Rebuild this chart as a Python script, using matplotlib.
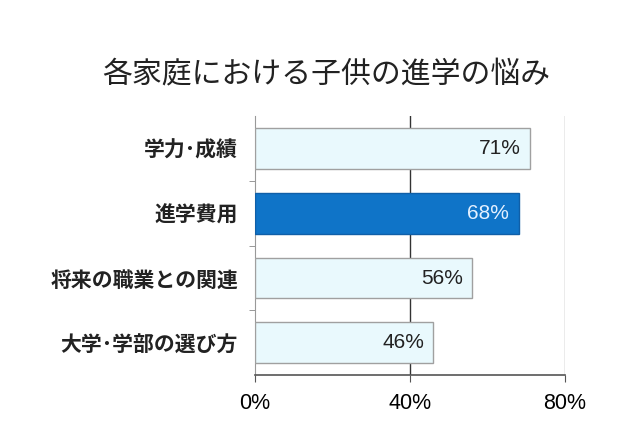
import matplotlib
matplotlib.use("Agg")
import matplotlib.pyplot as plt
from matplotlib.ticker import FixedLocator

plt.rcParams['font.family'] = ['Noto Sans CJK JP', 'DejaVu Sans']

categories = ["学力･成績", "進学費用", "将来の職業との関連", "大学･学部の選び方"]
values = [71, 68, 56, 46]
highlight = [False, True, False, False]
xticks = [0, 40, 80]
title = "各家庭における子供の進学の悩み"

fig = plt.figure(figsize=(6.4, 4.26), dpi=100)
ax = fig.add_axes([0.398, 0.119, 0.485, 0.609])

ypos = list(range(len(categories)))
colors = ['#0F74C8' if h else '#E9F9FD' for h in highlight]
edges = ['#0F5FA8' if h else '#A0A0A0' for h in highlight]
ax.barh(ypos, values, height=0.63, color=colors, edgecolor=edges, linewidth=1.0, zorder=3)

for y, v, h in zip(ypos, values, highlight):
    ax.text(v - 2.4, y, f"{v}%", ha='right', va='center', fontsize=15,
            color='#E3F0FF' if h else '#222222', zorder=4, family=['Liberation Sans', 'DejaVu Sans'])

ax.set_xlim(0, 80)
ax.set_ylim(len(categories) - 0.5, -0.5)
ax.set_xticks(xticks)
ax.set_xticklabels([f"{t}%" for t in xticks], fontsize=15.5, family=['Liberation Sans', 'DejaVu Sans'])
ax.set_yticks(ypos)
ax.set_yticklabels(categories, fontsize=15, fontweight='bold', color='#222222')
ax.tick_params(axis='y', length=0, pad=12)
ax.yaxis.set_minor_locator(FixedLocator([0.5, 1.5, 2.5]))
ax.tick_params(axis='y', which='minor', length=4, color='#888888')
ax.tick_params(axis='x', length=5, color='#555555', pad=8)

ax.axvline(40, color='#333333', linewidth=1.0, zorder=1)
ax.axvline(80, color='#999999', linewidth=1.0, zorder=1)

for s in ['top', 'right']:
    ax.spines[s].set_visible(False)
ax.spines['left'].set_color('#999999')
ax.spines['bottom'].set_color('#555555')
ax.spines['bottom'].set_linewidth(1.2)

fig.text(0.509, 0.826, title, ha='center', va='center', fontsize=21.5, color='#222222')

fig.savefig("out.png", dpi=100, facecolor='white')
